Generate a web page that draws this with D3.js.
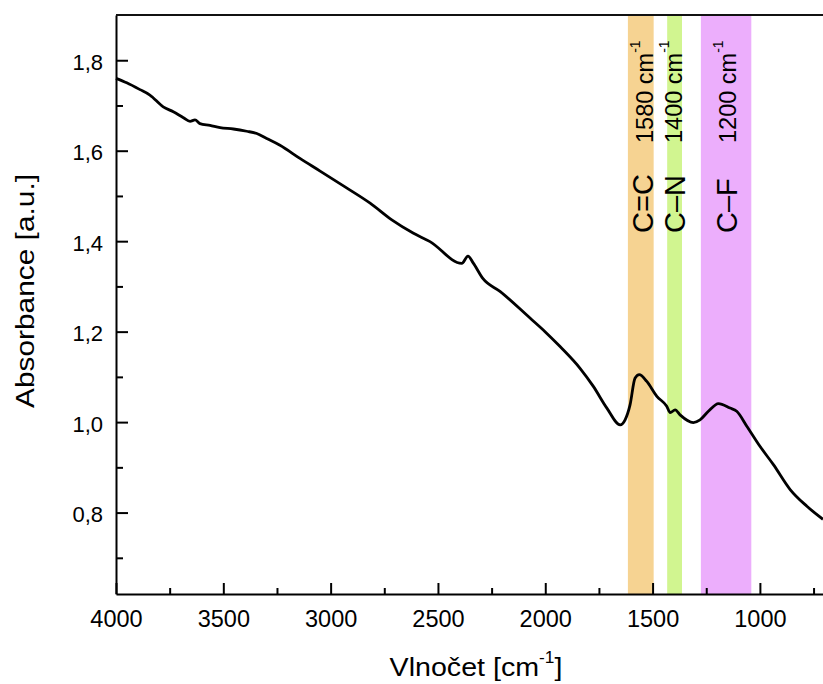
<!DOCTYPE html>
<html><head><meta charset="utf-8">
<script src="https://cdn.jsdelivr.net/npm/d3@7"></script>
<style>
body{margin:0;background:#fff}
text{font-family:Arial,"Liberation Sans",sans-serif;fill:#000}
</style>
</head><body>
<svg id="chart" width="823" height="684"></svg>
<script>
// ---- data ----
const wavenumber = [4000,3950,3888,3842,3780,3733,3686,3655,3632,3609,3562,3515,3453,3391,3344,3298,3236,3143,3049,2933,2816,2715,2616,2537,2389,2360,2336,2290,2211,2071,2001,1931,1838,1776,1713,1651,1628,1605,1582,1562,1527,1480,1434,1418,1395,1372,1310,1279,1240,1193,1139,1108,1061,999,937,859,781,706];
const absorbance = [1.760,1.750,1.735,1.723,1.697,1.686,1.673,1.665,1.668,1.660,1.656,1.651,1.648,1.643,1.638,1.627,1.612,1.583,1.555,1.520,1.484,1.447,1.418,1.399,1.351,1.367,1.352,1.317,1.289,1.230,1.200,1.167,1.119,1.079,1.031,0.994,1.005,1.038,1.097,1.105,1.090,1.057,1.035,1.021,1.027,1.016,0.999,1.005,1.024,1.041,1.031,1.024,0.991,0.946,0.906,0.851,0.814,0.785];

const bandNames = ["C=C","C\u2013N","C\u2013F"];
const bandCenters = [1580,1400,1200];
const bandStart = [1615,1432,1275];
const bandEnd = [1495,1363,1040];

const xMajorTicks = [4000,3500,3000,2500,2000,1500,1000];
const xMinorTicks = [3750,3250,2750,2250,1750,1250,750];
const yMajorTicks = [0.8,1.0,1.2,1.4,1.6,1.8];
const yTickLabels = ["0,8","1,0","1,2","1,4","1,6","1,8"];
const yMinorTicks = [0.7,0.9,1.1,1.3,1.5,1.7];

// ---- styles / layout ----
const bandColors = ["#F6D392","#D1F590","#ECAEFC"];
const nameDx = [18,11,20];
const numDx = [18,8,19];

const L = 116, R = 823, T = 15, B = 594;
const svg = d3.select("#chart");
const x = d3.scaleLinear().domain([4000,706]).range([L,R]);
const y = d3.scaleLinear().domain([0.62,1.9]).range([B,T]);

// bands
svg.append("g").selectAll("rect").data(bandStart).join("rect")
  .attr("x",(d,i)=>x(d))
  .attr("width",(d,i)=>x(bandEnd[i])-x(d))
  .attr("y",T+1).attr("height",B-T-1)
  .attr("fill",(d,i)=>bandColors[i]);

// band labels
const lbl = svg.append("g");
bandNames.forEach((n,i)=>{
  const cx = x(bandCenters[i]);
  lbl.append("text")
    .attr("transform",`translate(${cx+nameDx[i]},233) rotate(-90)`)
    .attr("font-size",29).text(n);
  const t = lbl.append("text")
    .attr("transform",`translate(${cx+numDx[i]},143) rotate(-90)`)
    .attr("font-size",23.5);
  t.append("tspan").text(bandCenters[i]+" cm");
  t.append("tspan").attr("font-size",14).attr("dy",-13).text("-1");
});

// line
const data = wavenumber.map((w,i)=>[w,absorbance[i]]);
svg.append("path").datum(data)
  .attr("fill","none").attr("stroke","#000").attr("stroke-width",2.8)
  .attr("stroke-linejoin","round")
  .attr("d",d3.line().x(d=>x(d[0])).y(d=>y(d[1])).curve(d3.curveMonotoneX));

// axes
const gx = svg.append("g").attr("transform",`translate(0,${B})`)
  .call(d3.axisBottom(x).tickValues(xMajorTicks).tickSizeInner(-11).tickSizeOuter(0).tickPadding(16).tickFormat(d3.format("d")));
const gxm = svg.append("g").attr("transform",`translate(0,${B})`)
  .call(d3.axisBottom(x).tickValues(xMinorTicks).tickSizeInner(-6).tickSizeOuter(0).tickFormat(""));
gxm.select(".domain").remove();
const gy = svg.append("g").attr("transform",`translate(${L},0)`)
  .call(d3.axisLeft(y).tickValues(yMajorTicks).tickSizeInner(-12).tickSizeOuter(0).tickPadding(13).tickFormat((d,i)=>yTickLabels[i]));
const gym = svg.append("g").attr("transform",`translate(${L},0)`)
  .call(d3.axisLeft(y).tickValues(yMinorTicks).tickSizeInner(-7).tickSizeOuter(0).tickFormat(""));
gym.select(".domain").remove();
svg.selectAll(".domain, .tick line").attr("stroke","#000").attr("stroke-width",2);
gx.selectAll("text").attr("font-size",23.5).attr("font-family","Arial,'Liberation Sans',sans-serif");
gy.selectAll("text").attr("font-size",22).attr("dy","0.42em").attr("font-family","Arial,'Liberation Sans',sans-serif");

// top border
svg.append("line").attr("x1",L).attr("x2",R).attr("y1",T).attr("y2",T)
  .attr("stroke","#111").attr("stroke-width",2);

// axis titles
const xt = svg.append("text").attr("transform","translate(476,676) scale(1.08,1)")
  .attr("text-anchor","middle").attr("font-size",26.5);
xt.append("tspan").text("Vlno\u010Det [cm");
xt.append("tspan").attr("font-size",16).attr("dy",-13).text("-1");
xt.append("tspan").attr("dy",13).text("]");

svg.append("text").attr("transform","translate(34,291) rotate(-90)")
  .attr("text-anchor","middle").attr("font-size",26.5)
  .attr("textLength",234).attr("lengthAdjust","spacingAndGlyphs")
  .text("Absorbance [a.u.]");
</script>
</body></html>
